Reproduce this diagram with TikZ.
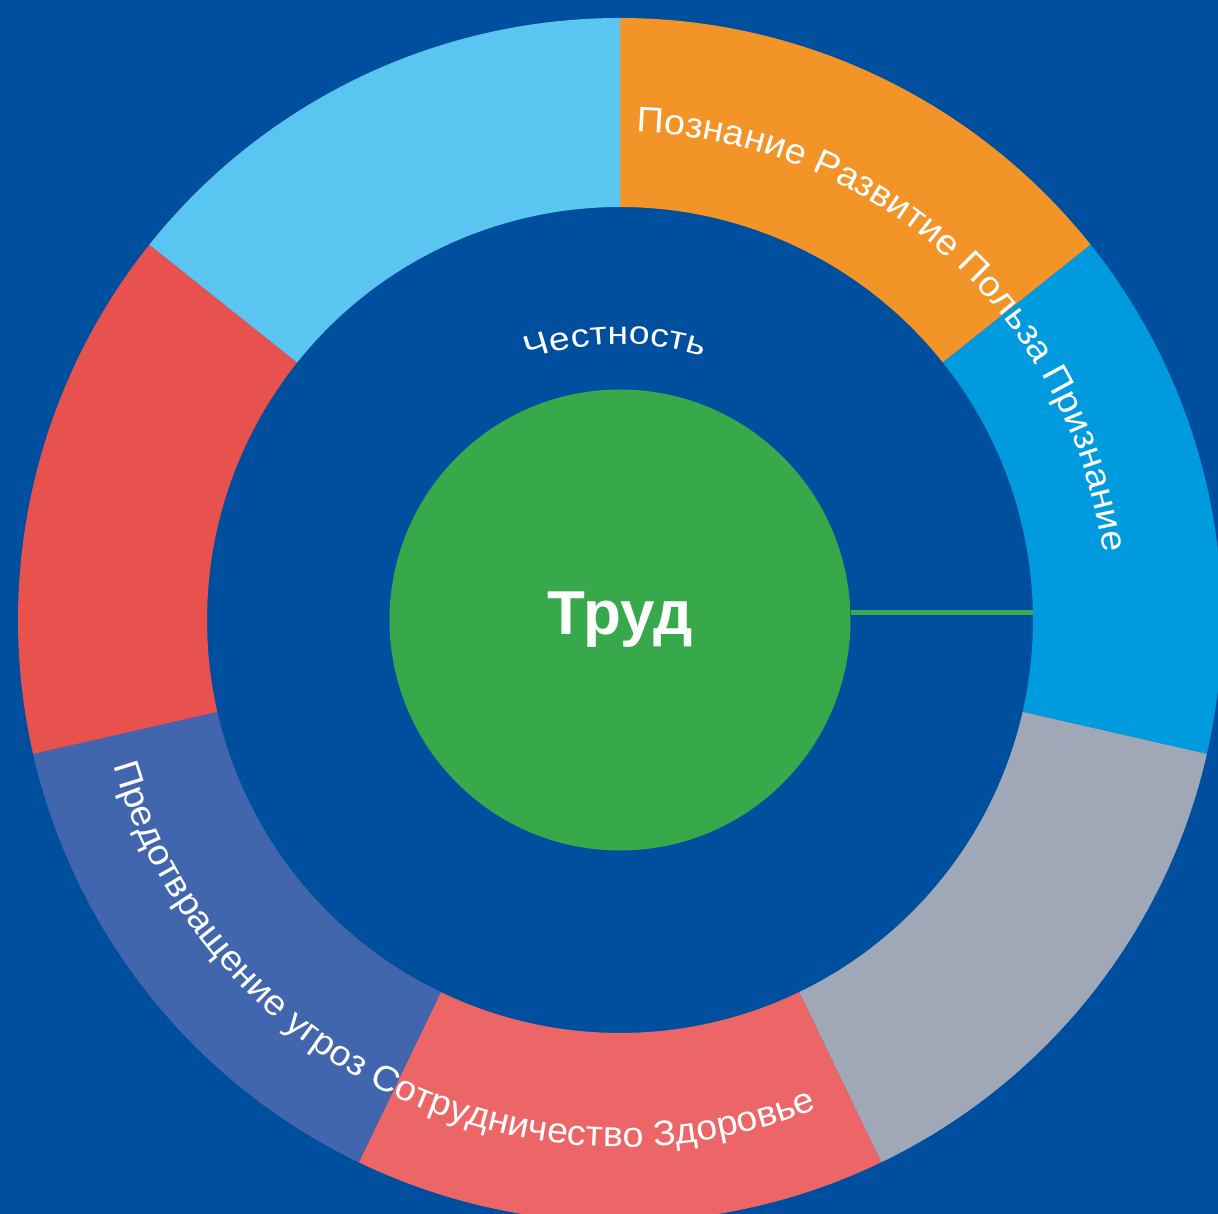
\documentclass[tikz,border=0pt]{standalone}
\usepackage{fontspec}
\setmainfont{Liberation Sans}
\newfontfamily\ringfont[FakeStretch=1.06]{Liberation Sans}
\newfontfamily\innerfont[FakeStretch=1.15]{Liberation Sans}
\usetikzlibrary{decorations.text}
\definecolor{bgblue}{RGB}{0,78,158}
\definecolor{segorange}{RGB}{243,148,40}
\definecolor{segblue}{RGB}{0,155,222}
\definecolor{seggray}{RGB}{160,168,184}
\definecolor{segsalmon}{RGB}{236,101,103}
\definecolor{segmuted}{RGB}{66,102,173}
\definecolor{segred}{RGB}{232,82,78}
\definecolor{seglight}{RGB}{91,197,242}
\definecolor{coregreen}{RGB}{56,169,74}
\newcommand{\ringtext}[2]{|\ringfont\fontsize{#1}{#1}\selectfont\color{white}|#2}
\newcommand{\innertext}[2]{|\innerfont\fontsize{#1}{#1}\selectfont\color{white}|#2}
\begin{document}
\begin{tikzpicture}[x=1pt,y=1pt]
\useasboundingbox (-620,-594) rectangle (598,620);
\fill[bgblue] (-620,-594) rectangle (598,620);
\begin{scope}
\clip (-620,-594) rectangle (598,620);
\foreach \a/\c in {90/segorange, 38.5714/segblue, -12.8571/seggray, -64.2857/segsalmon, -115.7143/segmuted, -167.1429/segred, -218.5714/seglight}{
  \pgfmathsetmacro\b{\a-51.4286}
  \fill[\c] (\a:413pt) arc[start angle=\a, end angle=\b, radius=413pt]
     -- (\b:602pt) arc[start angle=\b, end angle=\a, radius=602pt] -- cycle;
}
\end{scope}
\node[circle, fill=coregreen, minimum size=461pt, inner sep=0pt, text=white,
      font=\bfseries\fontsize{62}{62}\selectfont] (core) at (0,0) {Труд};
\coordinate (lineend) at (413,7.5);
\draw[coregreen, line width=5pt] (core.east |- lineend) -- (lineend);
\path[decorate, decoration={text along path, text align=center,
   text={\ringtext{35.5}{Познание Развитие Польза Признание}}}]
   (108:488pt) arc[start angle=108, end angle=-12, radius=488pt];
\path[decorate, decoration={text along path, text align=center,
   text={\ringtext{35.5}{Предотвращение угроз Сотрудничество Здоровье}}}]
   (169:527pt) arc[start angle=169, end angle=319, radius=527pt];
\path[decorate, decoration={text along path, text align=center,
   text={\innertext{32.5}{Честность}}}]
   (131:276pt) arc[start angle=131, end angle=51, radius=276pt];
\end{tikzpicture}
\end{document}
